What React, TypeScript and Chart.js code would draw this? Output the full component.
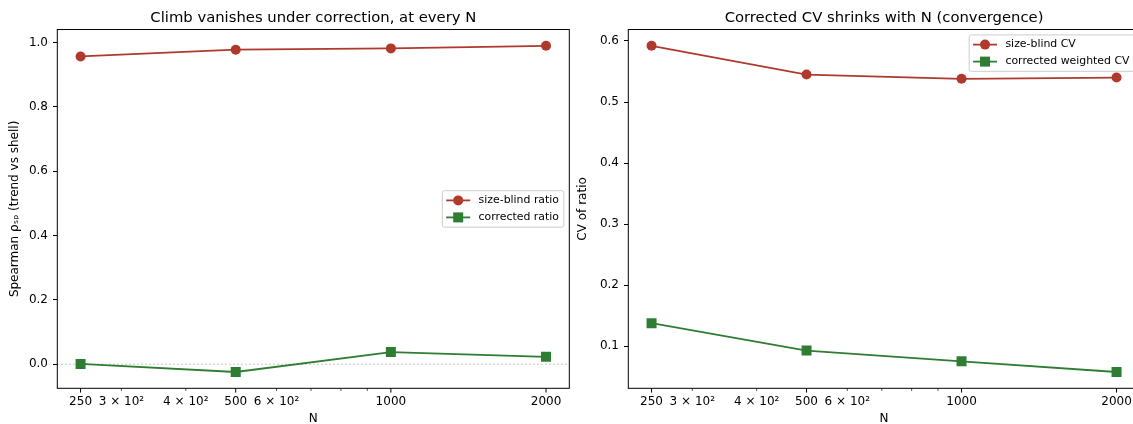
import { useEffect, useRef } from "react";
import { Chart, registerables } from "chart.js";

Chart.register(...registerables);

// ---------- data ----------
const N_VALUES = [250, 500, 1000, 2000];
const X_TICK_VALUES = [250, 300, 400, 500, 600, 700, 800, 900, 1000, 2000];
const X_TICK_LABELS = ["250", "3 × 10²", "4 × 10²", "500", "6 × 10²", "", "", "", "1000", "2000"];
const X_MAJOR_TICKS = [250, 500, 1000, 2000];

const RHO_SIZE_BLIND = [0.957, 0.978, 0.982, 0.99];
const RHO_CORRECTED = [0.001, -0.024, 0.038, 0.023];
const CV_SIZE_BLIND = [0.592, 0.545, 0.538, 0.54];
const CV_CORRECTED = [0.138, 0.093, 0.0755, 0.058];

const Y_TICKS_LEFT = [0, 0.2, 0.4, 0.6, 0.8, 1.0];
const Y_TICKS_RIGHT = [0.1, 0.2, 0.3, 0.4, 0.5, 0.6];

const LEFT_TITLE = "Climb vanishes under correction, at every N";
const RIGHT_TITLE = "Corrected CV shrinks with N (convergence)";
const LEFT_YLABEL = "Spearman ρₛₚ (trend vs shell)";
const RIGHT_YLABEL = "CV of ratio";
const X_LABEL = "N";
const LEFT_LEGEND = ["size-blind ratio", "corrected ratio"];
const RIGHT_LEGEND = ["size-blind CV", "corrected weighted CV"];

// ---------- style ----------
const RED = "#b0392e";
const GREEN = "#2e7d32";
const FONT = "'DejaVu Sans', sans-serif";

function paddedLinear(values: number[]): [number, number] {
  const lo = Math.min(...values);
  const hi = Math.max(...values);
  const m = (hi - lo) * 0.05;
  return [lo - m, hi + m];
}
function paddedLog(values: number[]): [number, number] {
  const lo = Math.log10(Math.min(...values));
  const hi = Math.log10(Math.max(...values));
  const m = (hi - lo) * 0.05;
  return [Math.pow(10, lo - m), Math.pow(10, hi + m)];
}

const framePlugin = {
  id: "mplFrame",
  afterDatasetsDraw(chart: any) {
    const { ctx, chartArea: ca } = chart;
    const xs = chart.scales.x;
    ctx.save();
    ctx.strokeStyle = "#000";
    ctx.lineWidth = 1;
    ctx.strokeRect(ca.left, ca.top, ca.right - ca.left, ca.bottom - ca.top);
    X_TICK_VALUES.forEach((v) => {
      const px = xs.getPixelForValue(v);
      const major = X_MAJOR_TICKS.includes(v);
      ctx.lineWidth = major ? 1 : 0.7;
      ctx.beginPath();
      ctx.moveTo(px, ca.bottom);
      ctx.lineTo(px, ca.bottom + (major ? 4.3 : 2.6));
      ctx.stroke();
    });
    ctx.restore();
  },
};

const zeroLinePlugin = {
  id: "zeroLine",
  beforeDatasetsDraw(chart: any) {
    const { ctx, chartArea: ca } = chart;
    const y = chart.scales.y.getPixelForValue(0);
    ctx.save();
    ctx.strokeStyle = "#a8a8a8";
    ctx.lineWidth = 1.2;
    ctx.setLineDash([1.3, 2.7]);
    ctx.beginPath();
    ctx.moveTo(ca.left, y);
    ctx.lineTo(ca.right, y);
    ctx.stroke();
    ctx.restore();
  },
};

function drawMarker(ctx: CanvasRenderingContext2D, style: string, x: number, y: number, color: string) {
  ctx.fillStyle = color;
  if (style === "circle") {
    ctx.beginPath();
    ctx.arc(x, y, 5, 0, Math.PI * 2);
    ctx.fill();
  } else {
    ctx.fillRect(x - 5, y - 5, 10, 10);
  }
}

function legendPlugin(loc: "upper right" | "center right") {
  return {
    id: "mplLegend",
    afterDatasetsDraw(chart: any) {
      const { ctx, chartArea: ca } = chart;
      const fs = 10.9;
      const bp = 3.9, hl = 24, htp = 8.4, rowH = 11.6, ls = 5.4, pad = 5.4;
      ctx.save();
      ctx.font = `${fs}px ${FONT}`;
      const items = chart.data.datasets.map((ds: any) => ({
        label: ds.label,
        color: ds.borderColor,
        style: ds.pointStyle,
      }));
      const textW = Math.max(...items.map((it: any) => ctx.measureText(it.label).width));
      const w = bp * 2 + hl + htp + textW + 1;
      const h = bp * 2 + rowH * items.length + ls * (items.length - 1);
      const right = ca.right - pad;
      const left = right - w;
      const top = loc === "upper right" ? ca.top + pad : (ca.top + ca.bottom) / 2 - h / 2;
      const r = 2.2;
      ctx.beginPath();
      ctx.moveTo(left + r, top);
      ctx.lineTo(right - r, top);
      ctx.arcTo(right, top, right, top + r, r);
      ctx.lineTo(right, top + h - r);
      ctx.arcTo(right, top + h, right - r, top + h, r);
      ctx.lineTo(left + r, top + h);
      ctx.arcTo(left, top + h, left, top + h - r, r);
      ctx.lineTo(left, top + r);
      ctx.arcTo(left, top, left + r, top, r);
      ctx.closePath();
      ctx.fillStyle = "rgba(255,255,255,0.8)";
      ctx.fill();
      ctx.strokeStyle = "#cccccc";
      ctx.lineWidth = 1;
      ctx.stroke();
      items.forEach((it: any, i: number) => {
        const cy = top + bp + rowH / 2 + i * (rowH + ls);
        const x0 = left + bp;
        ctx.strokeStyle = it.color;
        ctx.lineWidth = 1.8;
        ctx.beginPath();
        ctx.moveTo(x0, cy);
        ctx.lineTo(x0 + hl, cy);
        ctx.stroke();
        drawMarker(ctx, it.style, x0 + hl / 2, cy, it.color);
        ctx.fillStyle = "#000";
        ctx.textBaseline = "middle";
        ctx.textAlign = "left";
        ctx.fillText(it.label, x0 + hl + htp, cy);
      });
      ctx.restore();
    },
  };
}

interface Spec {
  title: string;
  ylabel: string;
  yTicks: number[];
  series: { label: string; values: number[]; color: string; style: string }[];
  legendLoc: "upper right" | "center right";
  zeroLine: boolean;
  yAxisWidth: number;
  rightPad: number;
  yTitlePad: number;
}

function makeChart(canvas: HTMLCanvasElement, spec: Spec) {
  const [xMin, xMax] = paddedLog(N_VALUES);
  const [yMin, yMax] = paddedLinear(spec.series.flatMap((s) => s.values));
  const plugins: any[] = [framePlugin, legendPlugin(spec.legendLoc)];
  if (spec.zeroLine) plugins.push(zeroLinePlugin);
  return new Chart(canvas, {
    type: "line",
    data: {
      datasets: spec.series.map((s) => ({
        label: s.label,
        data: N_VALUES.map((n, i) => ({ x: n, y: s.values[i] })),
        borderColor: s.color,
        backgroundColor: s.color,
        borderWidth: 1.8,
        pointStyle: s.style as any,
        pointRadius: s.style === "circle" ? 5 : 7.07,
        pointBackgroundColor: s.color,
        pointBorderWidth: 0,
        tension: 0,
        fill: false,
      })),
    },
    options: {
      responsive: false,
      animation: false,
      events: [],
      layout: { autoPadding: false, padding: { left: 0, right: spec.rightPad, top: 0, bottom: 0 } },
      plugins: {
        legend: { display: false },
        tooltip: { enabled: false },
        title: {
          display: true,
          text: spec.title,
          fullSize: false,
          color: "#000",
          font: { family: FONT, size: 14.8, weight: "normal", lineHeight: 1.2 },
          padding: { top: 9.4, bottom: 2.35 },
        },
      },
      scales: {
        x: {
          type: "logarithmic",
          min: xMin,
          max: xMax,
          afterBuildTicks: (s: any) => {
            s.ticks = X_TICK_VALUES.map((v) => ({ value: v, major: X_MAJOR_TICKS.includes(v) }));
          },
          afterFit: (s: any) => {
            s.height = 35.7;
            s.paddingLeft = 0;
            s.paddingRight = 0;
          },
          grid: { display: false, drawTicks: false, tickLength: 0 },
          border: { display: false },
          ticks: {
            autoSkip: false,
            maxRotation: 0,
            minRotation: 0,
            padding: 6.8,
            color: "#000",
            font: { family: FONT, size: 12 },
            callback: (_v: any, i: number) => X_TICK_LABELS[i],
          },
          title: {
            display: true,
            text: X_LABEL,
            color: "#000",
            font: { family: FONT, size: 12, lineHeight: 0.8 },
            padding: 0,
          },
        },
        y: {
          type: "linear",
          min: yMin,
          max: yMax,
          afterBuildTicks: (s: any) => {
            s.ticks = spec.yTicks.map((v) => ({ value: v }));
          },
          afterFit: (s: any) => {
            s.width = spec.yAxisWidth;
            s.paddingTop = 0;
            s.paddingBottom = 0;
          },
          grid: {
            display: true,
            drawOnChartArea: false,
            drawTicks: true,
            tickLength: 4.3,
            tickColor: "#000",
            tickWidth: 1,
          },
          border: { display: false },
          ticks: {
            padding: 5,
            color: "#000",
            font: { family: FONT, size: 12 },
            callback: (v: any) => Number(v).toFixed(1),
          },
          title: {
            display: true,
            text: spec.ylabel,
            color: "#000",
            font: { family: FONT, size: 12, lineHeight: 1.2 },
            padding: { top: spec.yTitlePad, bottom: 0 },
          },
        },
      },
    } as any,
    plugins,
  });
}

export default function App() {
  const leftRef = useRef<HTMLCanvasElement>(null);
  const rightRef = useRef<HTMLCanvasElement>(null);

  useEffect(() => {
    Chart.defaults.font.family = FONT;
    Chart.defaults.color = "#000";
    const left = makeChart(leftRef.current!, {
      title: LEFT_TITLE,
      ylabel: LEFT_YLABEL,
      yTicks: Y_TICKS_LEFT,
      series: [
        { label: LEFT_LEGEND[0], values: RHO_SIZE_BLIND, color: RED, style: "circle" },
        { label: LEFT_LEGEND[1], values: RHO_CORRECTED, color: GREEN, style: "rect" },
      ],
      legendLoc: "center right",
      zeroLine: true,
      yAxisWidth: 57.3,
      rightPad: 0.7,
      yTitlePad: 7.6,
    });
    const right = makeChart(rightRef.current!, {
      title: RIGHT_TITLE,
      ylabel: RIGHT_YLABEL,
      yTicks: Y_TICKS_RIGHT,
      series: [
        { label: RIGHT_LEGEND[0], values: CV_SIZE_BLIND, color: RED, style: "circle" },
        { label: RIGHT_LEGEND[1], values: CV_CORRECTED, color: GREEN, style: "rect" },
      ],
      legendLoc: "upper right",
      zeroLine: false,
      yAxisWidth: 58.3,
      rightPad: 1.2,
      yTitlePad: 5.3,
    });
    return () => {
      left.destroy();
      right.destroy();
    };
  }, []);

  return (
    <div
      style={{
        position: "fixed",
        left: 0,
        top: 0,
        width: 1133,
        height: 424,
        overflow: "hidden",
        background: "#fff",
      }}
    >
      <canvas
        ref={leftRef}
        width={570}
        height={424}
        style={{ position: "absolute", left: 0, top: 0, width: 570, height: 424 }}
      />
      <canvas
        ref={rightRef}
        width={571}
        height={424}
        style={{ position: "absolute", left: 570, top: 0, width: 571, height: 424 }}
      />
    </div>
  );
}
